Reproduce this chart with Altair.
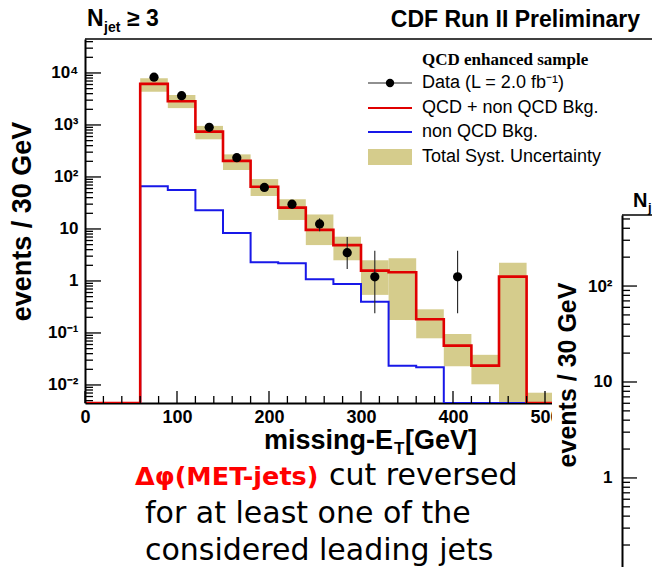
import altair as alt
import pandas as pd

# Missing-ET distribution, 30 GeV bins starting at 60 GeV
bin_left = [60, 90, 120, 150, 180, 210, 240, 270, 300, 330, 360, 390, 420, 450, 480]
bin_width = 30
qcd_plus_nonqcd = [6160, 2860, 745, 204, 65, 25.7, 9.6, 4.9, 1.58, 1.47, 0.183, 0.057, 0.0235, 1.21, 0]
non_qcd = [66, 56, 23, 8.4, 2.3, 2.2, 1.08, 0.875, 0.40, 0.0235, 0.022, 0, 0, 0, 0]
syst_low = [4370, 2110, 530, 136, 43, 14.9, 4.9, 2.5, 0.54, 0.178, 0.079, 0.023, 0.0103, 0, 0]
syst_high = [7900, 3770, 960, 272, 91, 37.3, 19, 7.1, 2.5, 2.73, 0.285, 0.096, 0.038, 2.25, 0.0071]

# Data points with their error bars
data_met = [75, 105, 135, 165, 195, 225, 255, 285, 315, 405]
data_events = [8300, 3650, 900, 235, 63, 30, 12.5, 3.5, 1.2, 1.2]
data_err_low = [8210, 3590, 870, 220, 55, 24.5, 9, 1.7, 0.24, 0.24]
data_err_high = [8390, 3710, 930, 250, 71, 35.5, 16, 7, 3.8, 3.8]

# Axis tick positions
x_major = [0, 100, 200, 300, 400, 500, 600]
x_minor = [v for v in range(20, 620, 20) if v % 100]
y_major = [0.01, 0.1, 1, 10, 100, 1000, 10000]
y_minor = [m * 10.0 ** e for e in range(-3, 5) for m in range(2, 10)]
b_major = [1, 10, 100]
b_minor = [m * 10.0 ** e for e in range(-1, 3) for m in range(2, 10)]

W, H = 567, 364
X_DOMAIN = [0, W / 0.92]
Y_DOMAIN = [4.5e-3, 4.5e4]
B_DOMAIN = [0.118, 550]
FLOOR = Y_DOMAIN[0]
y_minor = [v for v in y_minor if Y_DOMAIN[0] < v < Y_DOMAIN[1]]
b_minor = [v for v in b_minor if B_DOMAIN[0] < v < B_DOMAIN[1]]

RED = "#e00000"
BLUE = "#1818e8"
KHAKI = "#d5cc8c"
HELV = "Liberation Sans"

xs = alt.Scale(domain=X_DOMAIN, nice=False, zero=False)
ys = alt.Scale(type="log", domain=Y_DOMAIN, nice=False)
ybs = alt.Scale(type="log", domain=B_DOMAIN, range=[528, 176], nice=False)

hist = pd.DataFrame({
    "lo": bin_left,
    "hi": [b + bin_width for b in bin_left],
    "slo": syst_low,
    "shi": syst_high,
})
steps = pd.DataFrame({
    "met": [0] + bin_left + [bin_left[-1] + bin_width, X_DOMAIN[1]],
    "qcd": [0] + qcd_plus_nonqcd + [0, 0],
    "nonqcd": [0] + non_qcd + [0, 0],
})
points = pd.DataFrame({"met": data_met, "n": data_events,
                       "elo": data_err_low, "ehi": data_err_high})

y_label_expr = (
    "datum.value > 5000 ? '10⁴' : datum.value > 500 ? '10³' : "
    "datum.value > 50 ? '10²' : datum.value > 5 ? '10' : "
    "datum.value > 0.5 ? '1' : datum.value > 0.05 ? '10⁻¹' : '10⁻²'"
)

x_axis = alt.Axis(values=x_major[:-1], format="d", ticks=False, grid=False,
                  domainColor="black", domainWidth=2, labelFont=HELV,
                  labelFontWeight="bold", labelFontSize=18, labelColor="black",
                  labelPadding=5, labelFlush=False, labelOverlap=False,
                  title=None, zindex=0)
y_axis = alt.Axis(values=y_major, labelExpr=y_label_expr, ticks=False, grid=False,
                  domainColor="black", domainWidth=2, labelFont=HELV,
                  labelFontWeight="bold", labelFontSize=17, labelColor="black",
                  labelPadding=7, labelFlush=False, labelOverlap=False,
                  title="events / 30 GeV", titleFont=HELV, titleFontSize=27,
                  titleFontWeight="bold", titleColor="black", titleX=-63,
                  titleY=H / 2, titleAngle=270, titleAlign="center",
                  titleBaseline="middle", zindex=1)


def X(field):
    return alt.X(field, scale=xs, axis=x_axis)


def Y(field):
    return alt.Y(field, scale=ys, axis=y_axis)


# Systematic uncertainty band
band = alt.Chart(hist).transform_calculate(
    y0=f"max(datum.slo, {FLOOR})", y1=f"max(datum.shi, {FLOOR})"
).mark_rect(color=KHAKI, clip=True).encode(
    x=X("lo:Q"), x2="hi:Q", y=Y("y0:Q"), y2="y1:Q",
)


def step_line(field, color, width):
    return alt.Chart(steps).transform_calculate(
        v=f"max(datum.{field}, {FLOOR})"
    ).mark_line(interpolate="step-after", color=color, strokeWidth=width,
                clip=True).encode(x=X("met:Q"), y=Y("v:Q"))


nonqcd_line = step_line("nonqcd", BLUE, 2)
qcd_line = step_line("qcd", RED, 2.6)

err_bars = alt.Chart(points).mark_rule(color="#222222", strokeWidth=1.1).encode(
    x=X("met:Q"), y=Y("elo:Q"), y2="ehi:Q",
)
dots = alt.Chart(points).mark_circle(size=85, color="black", opacity=1).encode(
    x=X("met:Q"), y=Y("n:Q"),
)


def y_ticks(vals, length):
    return alt.Chart(pd.DataFrame({"v": vals})).mark_rule(
        color="black", strokeWidth=1.3).encode(
        y=Y("v:Q"), x=alt.value(0), x2=alt.value(length),
    )


def x_ticks(vals, length):
    return alt.Chart(pd.DataFrame({"v": vals})).mark_rule(
        color="black", strokeWidth=1.3).encode(
        x=X("v:Q"), y=alt.value(H), y2=alt.value(H - length),
    )


def rule(x, x2, y, color="black", width=1.5):
    return alt.Chart(pd.DataFrame({"a": [0]})).mark_rule(
        color=color, strokeWidth=width).encode(
        x=alt.value(x), x2=alt.value(x2), y=alt.value(y))


def label(text, x, y, size, weight="normal", font=HELV, color="black",
          align="left", angle=0, baseline="alphabetic"):
    return alt.Chart(pd.DataFrame({"t": [text]})).mark_text(
        align=align, baseline=baseline, font=font, fontSize=size,
        fontWeight=weight, color=color, angle=angle,
    ).encode(text="t:N", x=alt.value(x), y=alt.value(y))


frame_top = rule(0, W, 0)

# Legend
leg_x0, leg_x1, leg_tx = 283, 327, 337
legend = [
    label("QCD enhanced sample", leg_tx, 21, 17, weight="bold",
          font="Liberation Serif", baseline="middle"),
    rule(leg_x0, leg_x1, 44, color="#222222", width=1.1),
    alt.Chart(pd.DataFrame({"a": [0]})).mark_circle(
        size=70, color="black", opacity=1).encode(x=alt.value(305), y=alt.value(44)),
    label("Data (L = 2.0 fb⁻¹)", leg_tx, 44, 18, baseline="middle"),
    rule(leg_x0, leg_x1, 69, color=RED, width=2),
    label("QCD + non QCD Bkg.", leg_tx, 69, 18, baseline="middle"),
    rule(leg_x0, leg_x1, 93, color=BLUE, width=2),
    label("non QCD Bkg.", leg_tx, 93, 18, baseline="middle"),
    alt.Chart(pd.DataFrame({"a": [0]})).mark_rect(color=KHAKI).encode(
        x=alt.value(leg_x0), x2=alt.value(leg_x1), y=alt.value(110), y2=alt.value(126)),
    label("Total Syst. Uncertainty", leg_tx, 118, 18, baseline="middle"),
]

titles = [
    label("N", 2, -13, 23, weight="bold"),
    label("jet", 19, -7, 14, weight="bold"),
    label("≥ 3", 42, -13, 23, weight="bold"),
    label("CDF Run II Preliminary", 555, -12, 23, weight="bold", align="right"),
    label("missing-E", 308, 410, 27, weight="bold", align="right"),
    label("T", 309, 415, 17, weight="bold"),
    label("[GeV]", 320, 410, 27, weight="bold"),
    label("Δφ(MET-jets)", 50, 446, 25.5, weight="bold", font="DejaVu Sans", color="#ff0000"),
    label("cut reversed", 244, 446, 30, font="DejaVu Sans"),
    label("for at least one of the", 60, 484, 30, font="DejaVu Sans"),
    label("considered leading jets", 60, 521, 30, font="DejaVu Sans"),
]

main = alt.layer(
    band, nonqcd_line, qcd_line, err_bars, dots,
    y_ticks(y_major, 16), y_ticks(y_minor, 8),
    x_ticks(x_major, 12), x_ticks(x_minor, 7),
    frame_top, *legend, *titles,
)

# Neighbouring panel, partly hidden behind the main one's right edge
b_axis = alt.Axis(orient="left", offset=-537, values=b_major,
                  labelExpr="datum.value > 50 ? '10²' : datum.value > 5 ? '10' : '1'",
                  ticks=False, grid=False, domainColor="black", domainWidth=2,
                  labelFont=HELV, labelFontWeight="bold", labelFontSize=17,
                  labelColor="black", labelPadding=10, labelFlush=False,
                  labelOverlap=False, title=None, zindex=2)
cover = alt.Chart(pd.DataFrame({"a": [0]})).mark_rect(color="white").encode(
    x=alt.value(467), x2=alt.value(W), y=alt.value(143), y2=alt.value(H + 170))


def b_ticks(vals, length):
    return alt.Chart(pd.DataFrame({"v": vals})).mark_rule(
        color="black", strokeWidth=1.3).encode(
        y=alt.Y("v:Q", scale=ybs, axis=b_axis),
        x=alt.value(537), x2=alt.value(537 + length))


panel_b = alt.layer(
    cover, b_ticks(b_major, 15), b_ticks(b_minor, 8),
    rule(537, W, 176),
    label("N", 548, 168, 20, weight="bold"),
    label("j", 563, 173, 13, weight="bold"),
    label("events / 30 GeV", 483, 336, 25, weight="bold", angle=270,
          align="center", baseline="middle"),
)

chart = alt.layer(main, panel_b).resolve_scale(y="independent").properties(
    width=W, height=H,
    autosize=alt.AutoSizeParams(type="none"),
    padding={"left": 85, "top": 39, "right": 0, "bottom": 164},
    background="white",
).configure_view(strokeWidth=0)

chart.save("out.html", embed_options={"renderer": "svg", "actions": False})
